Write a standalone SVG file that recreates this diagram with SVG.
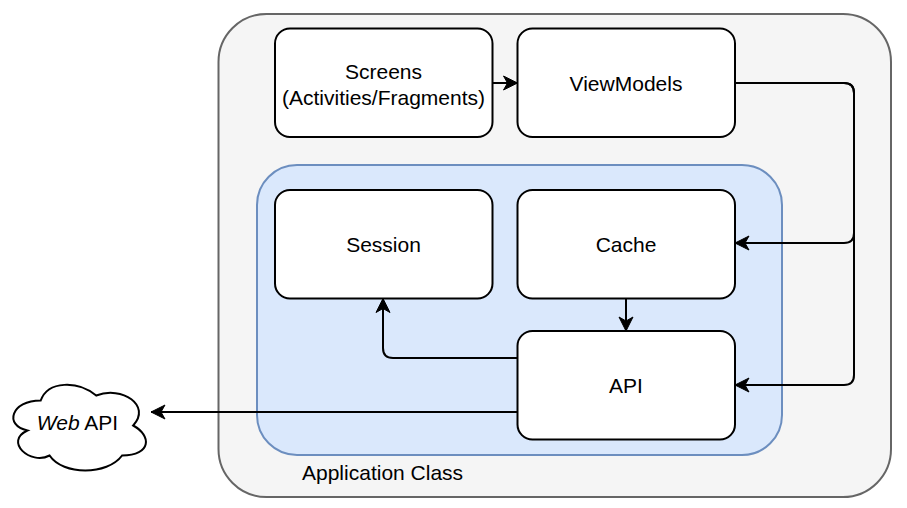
<svg xmlns="http://www.w3.org/2000/svg" width="907" height="508" viewBox="0 0 907 508">
<style>
.node{fill:#ffffff;stroke:#000000;stroke-width:2}
.lbl{font-family:"Liberation Sans",Arial,sans-serif;font-size:21px;fill:#000000;text-anchor:middle}
.edge{fill:none;stroke:#000000;stroke-width:2}
</style>
<defs>
<marker id="arr" markerUnits="userSpaceOnUse" markerWidth="16" markerHeight="16" viewBox="0 0 16 16" refX="15" refY="8" orient="auto">
<path d="M1,1 L15,8 L1,15 L5,8 Z" fill="#000000" stroke="#000000" stroke-width="1"/>
</marker>
</defs>
<g id="app-class">
<rect x="218.5" y="14" width="672.5" height="483" rx="48" ry="48" fill="#f5f5f5" stroke="#666666" stroke-width="2"/>
<text x="302" y="480" font-family="Liberation Sans, Arial, sans-serif" font-size="21" fill="#000000">Application Class</text>
</g>
<g id="data-layer">
<rect x="257" y="165" width="525" height="290" rx="40" ry="40" fill="#dae8fc" stroke="#6c8ebf" stroke-width="2"/>
</g>
<g id="screens">
<rect class="node" x="275" y="28.5" width="217.5" height="108.5" rx="15" ry="15"/>
<text class="lbl" x="383.5" y="79">Screens</text>
<text class="lbl" x="383.5" y="105">(Activities/Fragments)</text>
</g>
<g id="viewmodels">
<rect class="node" x="517.5" y="28.5" width="217.5" height="108.5" rx="15" ry="15"/>
<text class="lbl" x="626" y="91">ViewModels</text>
</g>
<g id="session">
<rect class="node" x="275" y="190" width="217.5" height="108.5" rx="15" ry="15"/>
<text class="lbl" x="383.5" y="252">Session</text>
</g>
<g id="cache">
<rect class="node" x="517.5" y="190" width="217.5" height="108.5" rx="15" ry="15"/>
<text class="lbl" x="626" y="252">Cache</text>
</g>
<g id="api">
<rect class="node" x="517.5" y="331" width="217.5" height="108.5" rx="15" ry="15"/>
<text class="lbl" x="626" y="393">API</text>
</g>
<g id="web-api">
<path d="M40.7,400.5 C11.1,400.5 3.7,425.5 27.4,430.5 C3.7,441.5 30.3,465.5 49.6,455.5 C62.9,475.5 107.3,475.5 122.1,455.5 C151.7,455.5 151.7,435.5 133.2,425.5 C151.7,405.5 122.1,385.5 96.2,395.5 C77.7,380.5 48.1,380.5 40.7,400.5 Z" fill="#ffffff" stroke="#000000" stroke-width="2"/>
<text class="lbl" x="77.5" y="429.5"><tspan font-style="italic">Web</tspan> API</text>
</g>
<g id="connectors">
<path class="edge" d="M492.5,83 L517.5,83" marker-end="url(#arr)"/>
<path class="edge" d="M735,83 L844,83 Q854,83 854,93 L854,233 Q854,243 844,243 L735,243" marker-end="url(#arr)"/>
<path class="edge" d="M735,83 L844,83 Q854,83 854,93 L854,375 Q854,385 844,385 L735,385" marker-end="url(#arr)"/>
<path class="edge" d="M626,298.5 L626,331" marker-end="url(#arr)"/>
<path class="edge" d="M517.5,358 L393,358 Q383,358 383,348 L383,298.5" marker-end="url(#arr)"/>
<path class="edge" d="M517.5,412 L151,412" marker-end="url(#arr)"/>
</g>
</svg>
